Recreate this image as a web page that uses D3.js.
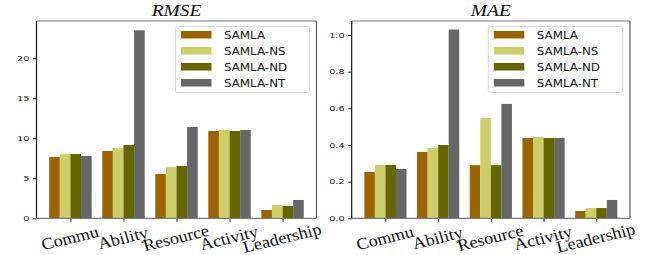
<!DOCTYPE html>
<html>
<head>
<meta charset="utf-8">
<script src="https://cdn.jsdelivr.net/npm/d3@7"></script>
<style>
  body { margin: 0; background: #fff; }
  svg { display: block; }
</style>
</head>
<body>
<script>
// categories and series
const categories = ["Commu", "Ability", "Resource", "Activity", "Leadership"];
const series = ["SAMLA", "SAMLA-NS", "SAMLA-ND", "SAMLA-NT"];
const colors = ["#9c6400", "#cdcd6a", "#666600", "#666666"];

// RMSE values, one array per series
const rmseSAMLA = [7.66, 8.41, 5.54, 10.91, 1.04];
const rmseNS = [8.04, 8.79, 6.41, 11.04, 1.66];
const rmseND = [8.04, 9.16, 6.54, 10.91, 1.54];
const rmseNT = [7.79, 23.5, 11.41, 11.04, 2.29];
const rmseTicks = [0, 5, 10, 15, 20];

// MAE values
const maeSAMLA = [0.253, 0.362, 0.29, 0.438, 0.04];
const maeNS = [0.291, 0.384, 0.547, 0.444, 0.056];
const maeND = [0.291, 0.40, 0.29, 0.438, 0.056];
const maeNT = [0.269, 1.03, 0.624, 0.438, 0.10];
const maeTicks = [0, 0.2, 0.4, 0.6, 0.8, 1.0];

const svg = d3.select("body").append("svg")
  .attr("width", 654)
  .attr("height", 255);

// the original picture is squashed vertically, so text is stretched sideways
function panel(opts) {
  const { left, right, top, bottom, title, values, yMax, ticks, fmt, legendX } = opts;
  const g = svg.append("g");

  // x in "category units" like matplotlib, bars of width 0.2
  const x = d3.scaleLinear().domain([-0.64, 4.64]).range([left, right]);
  const y = d3.scaleLinear().domain([0, yMax]).range([bottom, top]);
  const bw = 0.2;

  values.forEach((vals, s) => {
    g.selectAll(null)
      .data(vals)
      .enter()
      .append("rect")
      .attr("x", (d, i) => x(i - 0.4 + s * bw))
      .attr("y", d => y(d))
      .attr("width", x(bw) - x(0))
      .attr("height", d => y(0) - y(d))
      .attr("fill", colors[s]);
  });

  // y axis
  const yAxis = g.append("g")
    .attr("transform", `translate(${left},0)`)
    .call(d3.axisLeft(y).tickValues(ticks).tickFormat(fmt).tickSize(3.5).tickPadding(3));
  yAxis.select(".domain").remove();
  yAxis.selectAll("text")
    .attr("x", 0)
    .attr("transform", "translate(-7,0) scale(1.4,1)")
    .attr("font-family", "DejaVu Sans")
    .attr("font-size", 7)
    .attr("fill", "#222");
  yAxis.selectAll("line").attr("stroke", "#222");

  // x axis
  const xAxis = g.append("g")
    .attr("transform", `translate(0,${bottom})`)
    .call(d3.axisBottom(x).tickValues(d3.range(categories.length)).tickFormat("").tickSize(3.5));
  xAxis.select(".domain").remove();
  xAxis.selectAll("line").attr("stroke", "#222");

  g.selectAll(null)
    .data(categories)
    .enter()
    .append("text")
    .attr("transform", (d, i) => `translate(${x(i) + 1},${bottom + 25}) scale(1.1,1) rotate(-15)`)
    .attr("text-anchor", "middle")
    .attr("font-family", "Liberation Serif")
    .attr("font-size", 16.5)
    .attr("fill", "#111")
    .text(d => d);

  // frame: left spine dark, others grey
  g.append("line").attr("x1", left).attr("x2", right).attr("y1", top).attr("y2", top)
    .attr("stroke", "#777").attr("stroke-width", 1.2);
  g.append("line").attr("x1", right).attr("x2", right).attr("y1", top).attr("y2", bottom)
    .attr("stroke", "#555").attr("stroke-width", 1.2);
  g.append("line").attr("x1", left).attr("x2", right).attr("y1", bottom).attr("y2", bottom)
    .attr("stroke", "#777").attr("stroke-width", 1.2);
  g.append("line").attr("x1", left).attr("x2", left).attr("y1", top).attr("y2", bottom)
    .attr("stroke", "#111").attr("stroke-width", 1.2);

  // title
  g.append("text")
    .attr("transform", `translate(${(left + right) / 2},16) scale(1.18,1)`)
    .attr("text-anchor", "middle")
    .attr("font-family", "Liberation Serif")
    .attr("font-style", "italic")
    .attr("font-size", 16.5)
    .attr("fill", "#111")
    .text(title);

  // legend
  const lg = g.append("g").attr("transform", `translate(${legendX},26.5)`);
  lg.append("rect")
    .attr("width", 134)
    .attr("height", 66)
    .attr("rx", 2)
    .attr("fill", "#fff")
    .attr("fill-opacity", 0.85)
    .attr("stroke", "#d6d6d6");
  series.forEach((s, i) => {
    lg.append("rect")
      .attr("x", 5.5)
      .attr("y", 4.5 + i * 16)
      .attr("width", 30.5)
      .attr("height", 7.5)
      .attr("fill", colors[i]);
    lg.append("text")
      .attr("transform", `translate(48.5,${12.5 + i * 16}) scale(1.08,1)`)
      .attr("font-family", "DejaVu Sans")
      .attr("font-size", 11)
      .attr("fill", "#111")
      .text(s);
  });
}

panel({
  left: 36.5, right: 316.5, top: 21, bottom: 218.3,
  title: "RMSE",
  values: [rmseSAMLA, rmseNS, rmseND, rmseNT],
  yMax: 24.66, ticks: rmseTicks, fmt: d3.format("d"),
  legendX: 175.5
});

panel({
  left: 351.7, right: 630, top: 21, bottom: 218.3,
  title: "MAE",
  values: [maeSAMLA, maeNS, maeND, maeNT],
  yMax: 1.0765, ticks: maeTicks, fmt: d3.format(".1f"),
  legendX: 488.3
});
</script>
</body>
</html>
